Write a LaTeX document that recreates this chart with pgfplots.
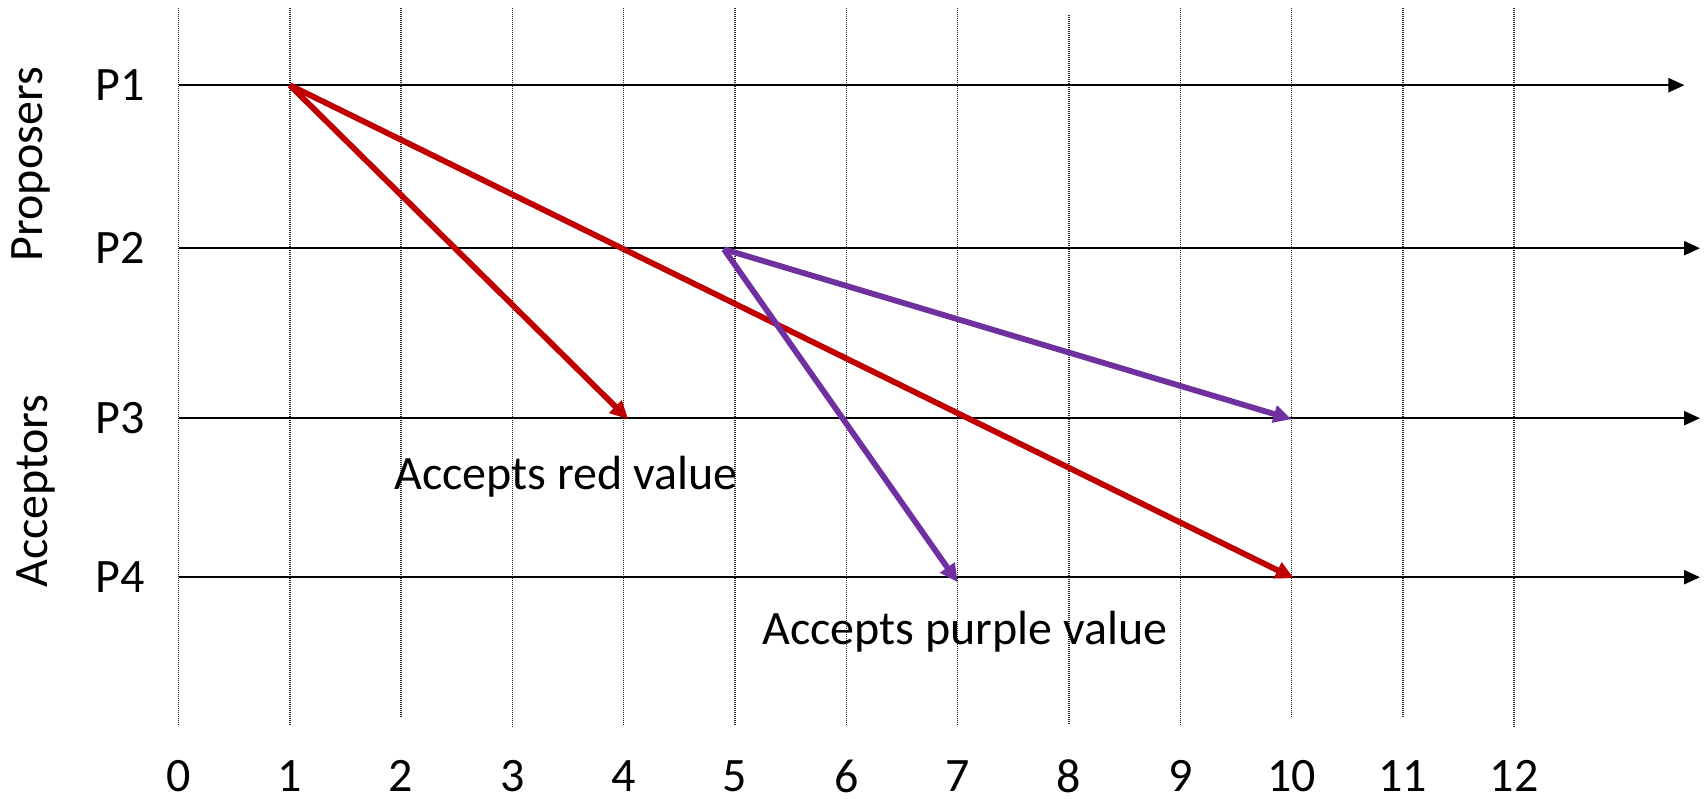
\documentclass[border=0pt]{standalone}
\usepackage{fontspec}
\setmainfont{Carlito}
\usepackage{pgfplots}
\pgfplotsset{compat=1.18}
\usetikzlibrary{arrows.meta}
\definecolor{offred}{HTML}{C00000}
\definecolor{offpurple}{HTML}{7030A0}
\newcommand{\bigfont}{\fontsize{24}{29}\selectfont}
\begin{document}
\begin{tikzpicture}
\begin{axis}[
  scale only axis, width=853.5pt, height=399pt,
  xmin=-1.604, xmax=13.733, ymin=-798, ymax=0,
  axis line style={draw=none},
  major tick length=0pt,
  ytick=\empty,
  xtick={0,1,2,3,4,5,6,7,8,9,10,11,12},
  xticklabels={0,1,2,3,4,5,6,7,8,9,10,11,12},
  xticklabel style={font=\bigfont, anchor=center, inner sep=0pt, yshift=11pt},
  clip=false,
  gridl/.style={black!85, line width=0.7pt, dash pattern=on 0.5pt off 0.5pt},
  hline/.style={black, line width=1.2pt, -{Triangle[length=8pt,width=7pt]}},
  redarr/.style={offred, line width=2.9pt, -{Triangle[length=9pt,width=8.5pt]}},
  purarr/.style={offpurple, line width=2.9pt, -{Triangle[length=9pt,width=8.5pt]}},
]
% vertical dotted time lines
\addplot[gridl] coordinates {(0,-8) (0,-725)};
\addplot[gridl] coordinates {(1,-8) (1,-725)};
\addplot[gridl] coordinates {(2,-8) (2,-717)};
\addplot[gridl] coordinates {(3,-8) (3,-727)};
\addplot[gridl] coordinates {(4,-8) (4,-725)};
\addplot[gridl] coordinates {(5,-8) (5,-725)};
\addplot[gridl] coordinates {(6,-8) (6,-725)};
\addplot[gridl] coordinates {(7,-8) (7,-725)};
\addplot[gridl] coordinates {(8,-15) (8,-725)};
\addplot[gridl] coordinates {(9,-8) (9,-725)};
\addplot[gridl] coordinates {(10,-8) (10,-717)};
\addplot[gridl] coordinates {(11,-8) (11,-717)};
\addplot[gridl] coordinates {(12,-8) (12,-727)};
% process lines
\addplot[hline] coordinates {(0,-85) (13.53,-85)};
\addplot[hline] coordinates {(0,-248) (13.67,-248)};
\addplot[hline] coordinates {(0,-418) (13.67,-418)};
\addplot[hline] coordinates {(0,-577) (13.67,-577)};
% messages
\addplot[redarr] coordinates {(1,-85) (4.04,-419)};
\addplot[redarr] coordinates {(1,-85) (10.02,-578)};
\addplot[purarr] coordinates {(4.9,-249) (10,-419)};
\addplot[purarr] coordinates {(4.9,-249) (7.0,-582)};
% labels
\node[font=\bigfont, inner sep=0pt, anchor=east] at (axis cs:-0.30,-85) {P1};
\node[font=\bigfont, inner sep=0pt, anchor=east] at (axis cs:-0.30,-248) {P2};
\node[font=\bigfont, inner sep=0pt, anchor=east] at (axis cs:-0.30,-418) {P3};
\node[font=\bigfont, inner sep=0pt, anchor=east] at (axis cs:-0.30,-577) {P4};
\node[font=\bigfont, inner sep=0pt, rotate=90, anchor=base] at (axis cs:-1.226,-164) {Proposers};
\node[font=\bigfont, inner sep=0pt, rotate=90, anchor=base] at (axis cs:-1.181,-491) {Acceptors};
\node[font=\bigfont, inner sep=0pt, anchor=base west] at (axis cs:1.936,-489) {Accepts red value};
\node[font=\bigfont, inner sep=0pt, anchor=base west] at (axis cs:5.243,-644) {Accepts purple value};
\end{axis}
\end{tikzpicture}
\end{document}
